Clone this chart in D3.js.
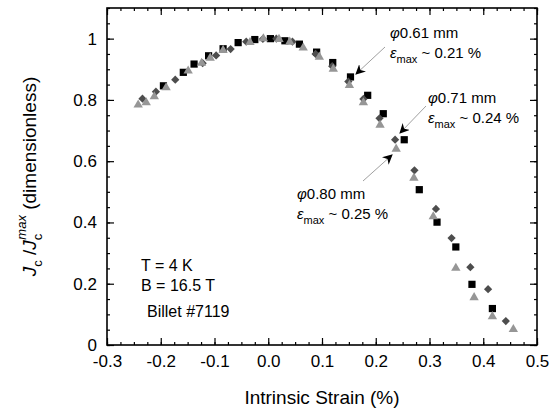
<!DOCTYPE html>
<html>
<head>
<meta charset="utf-8">
<script src="https://cdn.jsdelivr.net/npm/d3@7"></script>
<style>
  body { margin: 0; background: #fff; }
  text { font-family: "Liberation Sans", Arial, sans-serif; }
</style>
</head>
<body>
<div id="chart"></div>
<script>
// data: [strain %, Jc/Jc max]
var wire061 = [[-0.195,0.846],[-0.158,0.890],[-0.138,0.917],[-0.111,0.944],[-0.084,0.967],
  [-0.056,0.987],[-0.025,0.997],[0.004,1.0],[0.031,0.993],[0.058,0.982],[0.090,0.956],
  [0.120,0.922],[0.153,0.875],[0.185,0.815],[0.214,0.755],[0.253,0.670],[0.281,0.507],
  [0.314,0.401],[0.349,0.320],[0.379,0.198],[0.417,0.119]];
var wire071 = [[-0.234,0.804],[-0.209,0.827],[-0.173,0.866],[-0.122,0.920],[-0.097,0.945],
  [-0.070,0.966],[-0.041,0.990],[-0.010,0.999],[0.015,1.0],[0.045,0.990],[0.088,0.950],
  [0.119,0.910],[0.149,0.860],[0.177,0.803],[0.207,0.740],[0.236,0.670],[0.272,0.570],
  [0.312,0.444],[0.341,0.349],[0.376,0.254],[0.409,0.182],[0.442,0.078]];
var wire080 = [[-0.242,0.784],[-0.227,0.791],[-0.212,0.811],[-0.190,0.840],[-0.149,0.895],
  [-0.124,0.920],[-0.108,0.937],[-0.084,0.962],[-0.034,0.988],[-0.009,1.0],[0.020,0.998],
  [0.040,0.989],[0.065,0.970],[0.095,0.940],[0.121,0.901],[0.151,0.848],[0.177,0.791],
  [0.208,0.718],[0.238,0.640],[0.271,0.545],[0.307,0.419],[0.349,0.251],[0.383,0.155],
  [0.417,0.093],[0.456,0.051]];

var xTicks = [-0.3,-0.2,-0.1,0.0,0.1,0.2,0.3,0.4,0.5];
var xTickLabels = ["-0.3","-0.2","-0.1","0.0","0.1","0.2","0.3","0.4","0.5"];
var yTicks = [0,0.2,0.4,0.6,0.8,1];
var yTickLabels = ["0","0.2","0.4","0.6","0.8","1"];

// dimensions
var W = 550, H = 413;
var margin = {top: 8, right: 13, bottom: 68, left: 107},
    width = W - margin.left - margin.right,
    height = H - margin.top - margin.bottom;

var svg = d3.select("#chart")
  .append("svg")
    .attr("width", W)
    .attr("height", H);

svg.append("defs").append("marker")
    .attr("id", "head")
    .attr("viewBox", "0 0 10 10")
    .attr("refX", 9).attr("refY", 5)
    .attr("markerWidth", 10).attr("markerHeight", 10)
    .attr("markerUnits", "userSpaceOnUse")
    .attr("orient", "auto")
  .append("path")
    .attr("d", "M0,0 L10,5 L0,10 L3,5 Z")
    .attr("fill", "#000");

var g = svg.append("g")
    .attr("transform", "translate(" + margin.left + "," + margin.top + ")");

var x = d3.scaleLinear().domain([-0.3, 0.5]).range([0, width]);
var y = d3.scaleLinear().domain([0, 1.1]).range([height, 0]);

// minor tick positions
var xMinor = d3.range(-0.3, 0.5001, 0.025);
var yMinor = d3.range(0, 1.1001, 0.05);

function tickAxis(axisFn, scale, vals, size, labels) {
  return axisFn(scale).tickValues(vals).tickSizeInner(size).tickSizeOuter(0)
    .tickFormat(labels ? function(d, i) { return labels[i]; } : "");
}

// bottom
g.append("g").attr("class", "ax")
  .attr("transform", "translate(0," + height + ")")
  .call(tickAxis(d3.axisTop, x, xMinor, 3));
g.append("g").attr("class", "ax")
  .attr("transform", "translate(0," + height + ")")
  .call(tickAxis(d3.axisTop, x, xTicks, 7));
g.append("g").attr("class", "lab")
  .attr("transform", "translate(0," + height + ")")
  .call(tickAxis(d3.axisBottom, x, xTicks, 0, xTickLabels));
// top
g.append("g").attr("class", "ax").call(tickAxis(d3.axisBottom, x, xMinor, 3));
g.append("g").attr("class", "ax").call(tickAxis(d3.axisBottom, x, xTicks, 7));
// left
g.append("g").attr("class", "ax").call(tickAxis(d3.axisRight, y, yMinor, 3));
g.append("g").attr("class", "ax").call(tickAxis(d3.axisRight, y, yTicks, 7));
g.append("g").attr("class", "lab").call(tickAxis(d3.axisLeft, y, yTicks, 0, yTickLabels));
// right
g.append("g").attr("class", "ax").attr("transform", "translate(" + width + ",0)")
  .call(tickAxis(d3.axisLeft, y, yMinor, 3));
g.append("g").attr("class", "ax").attr("transform", "translate(" + width + ",0)")
  .call(tickAxis(d3.axisLeft, y, yTicks, 7));

g.selectAll(".ax .domain").remove();
g.selectAll(".lab .domain").remove();
g.selectAll(".ax line").attr("stroke", "#000").attr("stroke-width", 1.2);
g.selectAll(".lab line").remove();
g.selectAll(".lab text").attr("font-size", 17).attr("fill", "#000")
  .style("font-family", "'Liberation Sans', Arial, sans-serif");
g.selectAll(".lab text").filter(function() { return this.parentNode.parentNode.getAttribute("transform"); })
  .attr("y", 10);
g.selectAll(".lab text").filter(function() { return !this.parentNode.parentNode.getAttribute("transform"); })
  .attr("x", -10);

// frame
g.append("rect")
  .attr("width", width).attr("height", height)
  .attr("fill", "none").attr("stroke", "#000").attr("stroke-width", 1.6);

// points
var sq = d3.symbol().type(d3.symbolSquare).size(52);
var di = d3.symbol().type(d3.symbolSquare).size(34);
var tri = d3.symbol().type(d3.symbolTriangle).size(38);

g.selectAll(".s061").data(wire061).enter().append("path")
  .attr("d", sq)
  .attr("transform", function(d) { return "translate(" + x(d[0]) + "," + y(d[1]) + ")"; })
  .attr("fill", "#000");
g.selectAll(".s071").data(wire071).enter().append("path")
  .attr("d", di)
  .attr("transform", function(d) { return "translate(" + x(d[0]) + "," + y(d[1]) + ") rotate(45)"; })
  .attr("fill", "#4d4d4d");
g.selectAll(".s080").data(wire080).enter().append("path")
  .attr("d", tri)
  .attr("transform", function(d) { return "translate(" + x(d[0]) + "," + y(d[1]) + ")"; })
  .attr("fill", "#969696");

// annotations
function label(px, py, dia, eps) {
  svg.append("text").attr("x", px).attr("y", py).attr("font-size", 15)
    .call(function(t) {
      t.append("tspan").attr("font-style", "italic").text("\u03c6");
      t.append("tspan").text(dia + " mm");
    });
  svg.append("text").attr("x", px).attr("y", py + 20).attr("font-size", 15)
    .call(function(t) {
      t.append("tspan").attr("font-style", "italic").text("\u03b5");
      t.append("tspan").attr("font-size", 11).attr("dy", 5).text("max");
      t.append("tspan").attr("dy", -5).text(" ~ " + eps + " %");
    });
}
label(390, 38, "0.61", "0.21");
label(428, 103, "0.71", "0.24");
label(297, 199, "0.80", "0.25");

function arrow(x1, y1, x2, y2) {
  svg.append("line")
    .attr("x1", x1).attr("y1", y1).attr("x2", x2).attr("y2", y2)
    .attr("stroke", "#a0a0a0").attr("stroke-width", 1)
    .attr("marker-end", "url(#head)");
}
arrow(385, 47, 356, 74);
arrow(426, 106, 400, 133);
arrow(363, 181, 392, 155);

// conditions
svg.append("text").attr("x", 141).attr("y", 271).attr("font-size", 16).text("T = 4 K");
svg.append("text").attr("x", 141).attr("y", 291).attr("font-size", 16).text("B = 16.5 T");
svg.append("text").attr("x", 147).attr("y", 317).attr("font-size", 16).text("Billet #7119");

// axis titles
svg.append("text")
  .attr("x", margin.left + width / 2).attr("y", 404)
  .attr("text-anchor", "middle").attr("font-size", 19)
  .text("Intrinsic Strain (%)");

svg.append("text")
  .attr("transform", "translate(36," + (margin.top + height / 2) + ") rotate(-90)")
  .attr("text-anchor", "middle").attr("font-size", 19)
  .call(function(t) {
    t.append("tspan").attr("font-style", "italic").text("J");
    t.append("tspan").attr("font-size", 13).attr("dy", 6).text("c");
    t.append("tspan").attr("dy", -6).text(" /");
    t.append("tspan").attr("font-style", "italic").text("J");
    t.append("tspan").attr("font-size", 13).attr("dy", 6).text("c");
    t.append("tspan").attr("font-size", 13).attr("font-style", "italic").attr("dx", -6).attr("dy", -16).text("max");
    t.append("tspan").attr("dy", 10).text(" (dimensionless)");
  });
</script>
</body>
</html>
